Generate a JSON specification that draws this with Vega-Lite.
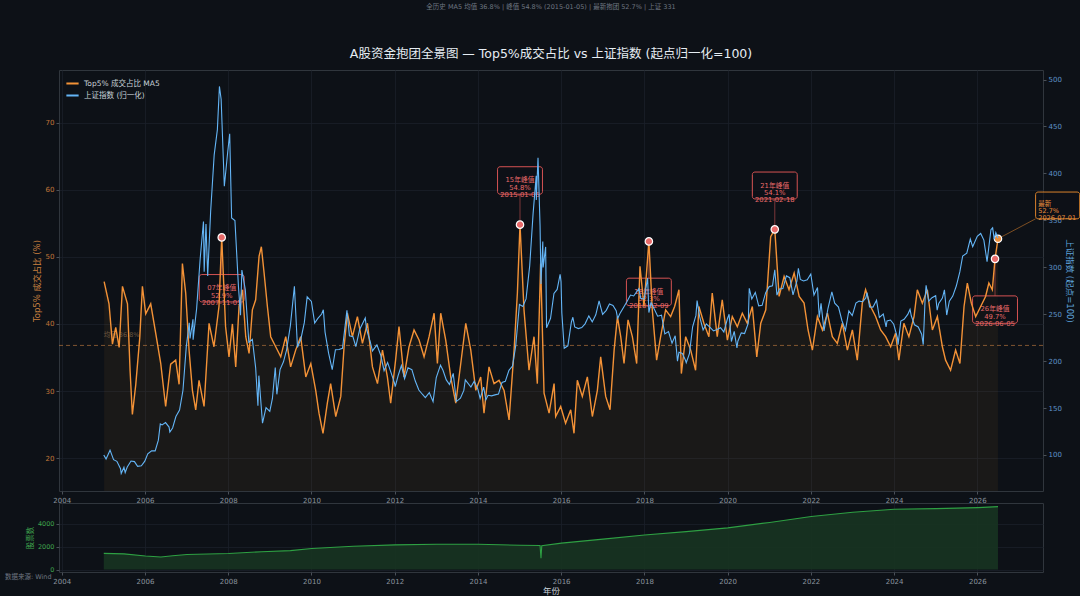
{
  "$schema": "https://vega.github.io/schema/vega-lite/v6.json",
  "background": "#0d1117",
  "autosize": {"type": "pad"},
  "padding": {"left": 4, "top": 3, "right": 1, "bottom": 1},
  "config": {
    "font": "DejaVu Sans, Noto Sans CJK SC",
    "view": {"stroke": "#30363d", "strokeWidth": 1},
    "axis": {
      "domain": false,
      "gridColor": "#1a2029",
      "gridWidth": 0.8,
      "tickColor": "#4a5058",
      "tickSize": 3,
      "labelFontSize": 7,
      "labelColor": "#8b949e",
      "labelPadding": 2,
      "titleFontWeight": "normal",
      "titleFontSize": 8.5
    },
    "legend": {
      "orient": "top-left",
      "offset": 6,
      "symbolType": "stroke",
      "symbolStrokeWidth": 2,
      "symbolSize": 150,
      "labelColor": "#c9d1d9",
      "labelFontSize": 7.5,
      "rowPadding": 0,
      "padding": 0
    }
  },
  "datasets": {
    "share": [
      {"d": "2005-01-07", "v": 46.3}, {"d": "2005-02-19", "v": 43.0}, {"d": "2005-03-21", "v": 37.0},
      {"d": "2005-04-19", "v": 39.5}, {"d": "2005-05-19", "v": 36.5}, {"d": "2005-06-17", "v": 45.6},
      {"d": "2005-07-31", "v": 43.0}, {"d": "2005-08-23", "v": 33.0}, {"d": "2005-09-12", "v": 26.5},
      {"d": "2005-10-12", "v": 31.0}, {"d": "2005-11-16", "v": 38.0}, {"d": "2005-12-09", "v": 45.6},
      {"d": "2006-01-07", "v": 41.5}, {"d": "2006-02-20", "v": 43.0}, {"d": "2006-04-05", "v": 38.6},
      {"d": "2006-05-19", "v": 34.1}, {"d": "2006-07-01", "v": 27.7}, {"d": "2006-08-14", "v": 34.0},
      {"d": "2006-09-27", "v": 34.6}, {"d": "2006-10-27", "v": 31.0}, {"d": "2006-11-25", "v": 49.0},
      {"d": "2006-12-24", "v": 44.6}, {"d": "2007-01-23", "v": 36.0}, {"d": "2007-02-21", "v": 30.1},
      {"d": "2007-03-22", "v": 27.2}, {"d": "2007-04-20", "v": 31.6}, {"d": "2007-06-03", "v": 27.7},
      {"d": "2007-07-17", "v": 40.1}, {"d": "2007-08-29", "v": 36.6}, {"d": "2007-10-12", "v": 42.6},
      {"d": "2007-11-05", "v": 52.9}, {"d": "2007-12-09", "v": 39.6}, {"d": "2008-01-08", "v": 35.1},
      {"d": "2008-02-07", "v": 40.0}, {"d": "2008-03-07", "v": 33.6}, {"d": "2008-04-05", "v": 42.6},
      {"d": "2008-05-05", "v": 45.1}, {"d": "2008-06-03", "v": 38.1}, {"d": "2008-07-02", "v": 35.6},
      {"d": "2008-07-31", "v": 42.1}, {"d": "2008-08-29", "v": 43.6}, {"d": "2008-09-28", "v": 50.1},
      {"d": "2008-10-18", "v": 51.5}, {"d": "2008-11-11", "v": 47.6}, {"d": "2008-12-10", "v": 42.6},
      {"d": "2009-01-08", "v": 38.1}, {"d": "2009-02-21", "v": 36.6}, {"d": "2009-04-06", "v": 35.1},
      {"d": "2009-05-20", "v": 38.1}, {"d": "2009-07-02", "v": 33.6}, {"d": "2009-08-15", "v": 36.1},
      {"d": "2009-09-28", "v": 38.1}, {"d": "2009-11-12", "v": 32.1}, {"d": "2009-12-26", "v": 34.1},
      {"d": "2010-02-07", "v": 30.1}, {"d": "2010-03-08", "v": 26.7}, {"d": "2010-04-12", "v": 23.7},
      {"d": "2010-05-20", "v": 28.2}, {"d": "2010-06-18", "v": 31.1}, {"d": "2010-08-02", "v": 26.2},
      {"d": "2010-09-15", "v": 29.2}, {"d": "2010-10-14", "v": 36.6}, {"d": "2010-11-12", "v": 41.6},
      {"d": "2010-12-26", "v": 38.1}, {"d": "2011-02-08", "v": 41.1}, {"d": "2011-03-24", "v": 37.1},
      {"d": "2011-05-07", "v": 40.1}, {"d": "2011-06-20", "v": 33.6}, {"d": "2011-08-03", "v": 31.1},
      {"d": "2011-09-16", "v": 36.1}, {"d": "2011-10-29", "v": 32.1}, {"d": "2011-11-27", "v": 28.2},
      {"d": "2012-01-09", "v": 34.6}, {"d": "2012-02-08", "v": 39.6}, {"d": "2012-03-23", "v": 32.1},
      {"d": "2012-05-06", "v": 36.6}, {"d": "2012-06-19", "v": 39.1}, {"d": "2012-08-02", "v": 37.6},
      {"d": "2012-09-15", "v": 35.1}, {"d": "2012-10-29", "v": 38.1}, {"d": "2012-12-12", "v": 41.6},
      {"d": "2013-01-10", "v": 34.1}, {"d": "2013-02-08", "v": 41.6}, {"d": "2013-03-24", "v": 37.6},
      {"d": "2013-05-07", "v": 32.1}, {"d": "2013-06-20", "v": 28.2}, {"d": "2013-08-03", "v": 34.1},
      {"d": "2013-09-16", "v": 40.1}, {"d": "2013-10-30", "v": 36.1}, {"d": "2013-12-13", "v": 30.1},
      {"d": "2014-01-25", "v": 32.1}, {"d": "2014-02-23", "v": 26.7}, {"d": "2014-04-08", "v": 33.6},
      {"d": "2014-05-22", "v": 31.1}, {"d": "2014-07-05", "v": 31.6}, {"d": "2014-08-18", "v": 30.1},
      {"d": "2014-10-01", "v": 25.7}, {"d": "2014-11-14", "v": 36.1}, {"d": "2014-12-13", "v": 44.6},
      {"d": "2015-01-05", "v": 54.8}, {"d": "2015-02-09", "v": 42.1}, {"d": "2015-03-25", "v": 33.1},
      {"d": "2015-05-08", "v": 38.1}, {"d": "2015-06-06", "v": 31.1}, {"d": "2015-07-05", "v": 49.0},
      {"d": "2015-08-04", "v": 29.7}, {"d": "2015-09-17", "v": 26.7}, {"d": "2015-10-31", "v": 31.1},
      {"d": "2015-11-14", "v": 26.2}, {"d": "2015-12-28", "v": 27.7}, {"d": "2016-02-09", "v": 25.2},
      {"d": "2016-03-25", "v": 27.2}, {"d": "2016-04-23", "v": 23.7}, {"d": "2016-05-22", "v": 31.6},
      {"d": "2016-07-05", "v": 29.2}, {"d": "2016-08-18", "v": 32.1}, {"d": "2016-10-01", "v": 26.2},
      {"d": "2016-11-14", "v": 30.1}, {"d": "2016-12-13", "v": 35.1}, {"d": "2017-01-26", "v": 29.2},
      {"d": "2017-03-05", "v": 27.2}, {"d": "2017-04-10", "v": 36.1}, {"d": "2017-05-09", "v": 41.1},
      {"d": "2017-06-07", "v": 38.1}, {"d": "2017-07-06", "v": 34.1}, {"d": "2017-08-10", "v": 40.6},
      {"d": "2017-09-17", "v": 38.1}, {"d": "2017-10-25", "v": 34.1}, {"d": "2017-11-23", "v": 48.6},
      {"d": "2017-12-28", "v": 42.6}, {"d": "2018-02-09", "v": 52.3}, {"d": "2018-03-11", "v": 42.1},
      {"d": "2018-04-18", "v": 34.6}, {"d": "2018-05-23", "v": 38.1}, {"d": "2018-07-06", "v": 42.1},
      {"d": "2018-08-19", "v": 41.1}, {"d": "2018-09-23", "v": 42.6}, {"d": "2018-10-31", "v": 45.1},
      {"d": "2018-11-21", "v": 32.6}, {"d": "2018-12-29", "v": 38.1}, {"d": "2019-02-11", "v": 36.1},
      {"d": "2019-03-26", "v": 33.1}, {"d": "2019-04-24", "v": 42.6}, {"d": "2019-06-07", "v": 40.1},
      {"d": "2019-07-21", "v": 38.1}, {"d": "2019-08-19", "v": 44.6}, {"d": "2019-10-02", "v": 38.1},
      {"d": "2019-11-15", "v": 43.6}, {"d": "2019-12-30", "v": 37.6}, {"d": "2020-02-11", "v": 41.1},
      {"d": "2020-03-26", "v": 39.6}, {"d": "2020-05-09", "v": 41.6}, {"d": "2020-06-22", "v": 40.1},
      {"d": "2020-08-05", "v": 42.6}, {"d": "2020-09-13", "v": 35.1}, {"d": "2020-10-18", "v": 40.1},
      {"d": "2020-12-01", "v": 42.1}, {"d": "2021-01-13", "v": 53.0}, {"d": "2021-02-18", "v": 54.1},
      {"d": "2021-03-28", "v": 44.1}, {"d": "2021-05-11", "v": 47.1}, {"d": "2021-06-23", "v": 45.1},
      {"d": "2021-08-07", "v": 47.6}, {"d": "2021-09-20", "v": 44.1}, {"d": "2021-11-02", "v": 43.1},
      {"d": "2021-12-07", "v": 39.1}, {"d": "2022-01-14", "v": 36.1}, {"d": "2022-02-27", "v": 41.1},
      {"d": "2022-04-12", "v": 39.1}, {"d": "2022-05-26", "v": 41.6}, {"d": "2022-07-08", "v": 38.1},
      {"d": "2022-08-21", "v": 37.1}, {"d": "2022-10-04", "v": 40.1}, {"d": "2022-11-17", "v": 36.1},
      {"d": "2022-12-31", "v": 39.1}, {"d": "2023-02-12", "v": 34.6}, {"d": "2023-03-28", "v": 43.1},
      {"d": "2023-04-26", "v": 45.1}, {"d": "2023-06-09", "v": 42.6}, {"d": "2023-07-23", "v": 41.1},
      {"d": "2023-09-05", "v": 39.1}, {"d": "2023-10-19", "v": 38.1}, {"d": "2023-12-02", "v": 36.6},
      {"d": "2024-01-14", "v": 38.6}, {"d": "2024-02-12", "v": 34.6}, {"d": "2024-03-27", "v": 40.1},
      {"d": "2024-05-10", "v": 38.1}, {"d": "2024-06-24", "v": 41.1}, {"d": "2024-07-23", "v": 45.1},
      {"d": "2024-09-05", "v": 43.1}, {"d": "2024-10-19", "v": 45.1}, {"d": "2024-12-02", "v": 39.1},
      {"d": "2025-01-15", "v": 41.1}, {"d": "2025-02-28", "v": 36.6}, {"d": "2025-03-28", "v": 34.6},
      {"d": "2025-05-11", "v": 33.1}, {"d": "2025-06-24", "v": 36.1}, {"d": "2025-08-01", "v": 34.1},
      {"d": "2025-09-06", "v": 42.6}, {"d": "2025-10-05", "v": 46.1}, {"d": "2025-11-09", "v": 43.1},
      {"d": "2025-12-17", "v": 41.1}, {"d": "2026-01-30", "v": 42.6}, {"d": "2026-03-14", "v": 44.1},
      {"d": "2026-04-12", "v": 46.1}, {"d": "2026-05-12", "v": 45.1}, {"d": "2026-06-05", "v": 49.7},
      {"d": "2026-07-01", "v": 52.7}
    ],
    "index": [
      {"d": "2005-01-04", "v": 100.0}, {"d": "2005-01-24", "v": 95.7}, {"d": "2005-02-28", "v": 105.1},
      {"d": "2005-03-31", "v": 95.0}, {"d": "2005-04-29", "v": 93.2}, {"d": "2005-05-31", "v": 85.3},
      {"d": "2005-06-06", "v": 80.3}, {"d": "2005-06-30", "v": 86.9}, {"d": "2005-07-11", "v": 81.3},
      {"d": "2005-07-29", "v": 87.1}, {"d": "2005-08-31", "v": 93.5}, {"d": "2005-09-30", "v": 92.9},
      {"d": "2005-10-28", "v": 87.9}, {"d": "2005-11-30", "v": 88.4}, {"d": "2005-12-30", "v": 93.4},
      {"d": "2006-01-25", "v": 101.2}, {"d": "2006-02-28", "v": 104.5}, {"d": "2006-03-31", "v": 104.4},
      {"d": "2006-04-28", "v": 115.8}, {"d": "2006-05-15", "v": 133.1}, {"d": "2006-05-31", "v": 132.0},
      {"d": "2006-06-30", "v": 134.5}, {"d": "2006-07-31", "v": 129.7}, {"d": "2006-08-07", "v": 124.5},
      {"d": "2006-08-31", "v": 128.8}, {"d": "2006-09-29", "v": 141.0}, {"d": "2006-10-31", "v": 147.8},
      {"d": "2006-11-30", "v": 168.9}, {"d": "2006-12-29", "v": 215.2}, {"d": "2007-01-24", "v": 240.9},
      {"d": "2007-01-31", "v": 224.1}, {"d": "2007-02-26", "v": 244.6}, {"d": "2007-02-27", "v": 222.9},
      {"d": "2007-03-30", "v": 256.1}, {"d": "2007-04-30", "v": 309.0}, {"d": "2007-05-29", "v": 348.8},
      {"d": "2007-06-04", "v": 295.3}, {"d": "2007-06-20", "v": 346.0}, {"d": "2007-07-05", "v": 290.8},
      {"d": "2007-07-31", "v": 359.7}, {"d": "2007-08-31", "v": 419.8}, {"d": "2007-09-28", "v": 446.7},
      {"d": "2007-10-16", "v": 492.7}, {"d": "2007-10-31", "v": 479.0}, {"d": "2007-11-28", "v": 386.4},
      {"d": "2007-12-28", "v": 423.3}, {"d": "2008-01-14", "v": 442.2}, {"d": "2008-01-31", "v": 352.6},
      {"d": "2008-02-29", "v": 349.8}, {"d": "2008-03-31", "v": 279.4}, {"d": "2008-04-18", "v": 248.9},
      {"d": "2008-04-30", "v": 297.1}, {"d": "2008-05-30", "v": 276.2}, {"d": "2008-06-30", "v": 220.1},
      {"d": "2008-07-31", "v": 223.3}, {"d": "2008-08-29", "v": 192.8}, {"d": "2008-09-18", "v": 152.5},
      {"d": "2008-09-26", "v": 184.5}, {"d": "2008-10-28", "v": 133.9}, {"d": "2008-11-28", "v": 150.5},
      {"d": "2008-12-31", "v": 146.5}, {"d": "2009-01-23", "v": 160.2}, {"d": "2009-02-17", "v": 193.2},
      {"d": "2009-03-03", "v": 164.6}, {"d": "2009-03-31", "v": 190.9}, {"d": "2009-04-30", "v": 199.3},
      {"d": "2009-05-27", "v": 211.8}, {"d": "2009-06-30", "v": 238.1}, {"d": "2009-08-04", "v": 279.8},
      {"d": "2009-08-31", "v": 214.6}, {"d": "2009-09-30", "v": 223.6}, {"d": "2009-10-30", "v": 241.0},
      {"d": "2009-11-24", "v": 268.5}, {"d": "2009-12-31", "v": 263.6}, {"d": "2010-01-29", "v": 240.5},
      {"d": "2010-02-26", "v": 245.5}, {"d": "2010-03-31", "v": 250.2}, {"d": "2010-04-15", "v": 254.7},
      {"d": "2010-04-30", "v": 230.9}, {"d": "2010-05-31", "v": 208.5}, {"d": "2010-07-02", "v": 190.9},
      {"d": "2010-07-30", "v": 212.2}, {"d": "2010-08-31", "v": 212.3}, {"d": "2010-09-30", "v": 213.7},
      {"d": "2010-11-08", "v": 254.1}, {"d": "2010-11-30", "v": 226.9}, {"d": "2010-12-31", "v": 225.9},
      {"d": "2011-01-25", "v": 215.4}, {"d": "2011-02-28", "v": 233.7}, {"d": "2011-04-18", "v": 245.9},
      {"d": "2011-04-29", "v": 234.2}, {"d": "2011-05-31", "v": 220.7}, {"d": "2011-06-20", "v": 210.9},
      {"d": "2011-07-29", "v": 217.3}, {"d": "2011-08-31", "v": 206.5}, {"d": "2011-09-30", "v": 189.8},
      {"d": "2011-10-31", "v": 198.6}, {"d": "2011-11-30", "v": 187.7}, {"d": "2011-12-30", "v": 176.9},
      {"d": "2012-01-06", "v": 172.8}, {"d": "2012-01-31", "v": 184.4}, {"d": "2012-02-29", "v": 195.3},
      {"d": "2012-03-28", "v": 181.2}, {"d": "2012-04-27", "v": 192.8}, {"d": "2012-05-31", "v": 190.9},
      {"d": "2012-06-29", "v": 179.0}, {"d": "2012-07-31", "v": 169.2}, {"d": "2012-08-31", "v": 164.7},
      {"d": "2012-09-26", "v": 161.2}, {"d": "2012-10-31", "v": 166.5}, {"d": "2012-12-03", "v": 156.8},
      {"d": "2012-12-31", "v": 182.5}, {"d": "2013-02-06", "v": 195.7}, {"d": "2013-02-28", "v": 190.3},
      {"d": "2013-03-29", "v": 180.0}, {"d": "2013-04-26", "v": 175.1}, {"d": "2013-05-29", "v": 187.0},
      {"d": "2013-06-25", "v": 156.9}, {"d": "2013-07-31", "v": 160.4}, {"d": "2013-08-30", "v": 168.8},
      {"d": "2013-09-12", "v": 180.0}, {"d": "2013-10-31", "v": 172.3}, {"d": "2013-11-29", "v": 178.6},
      {"d": "2013-12-31", "v": 170.2}, {"d": "2014-01-20", "v": 160.2}, {"d": "2014-02-20", "v": 172.3},
      {"d": "2014-03-11", "v": 158.8}, {"d": "2014-03-31", "v": 163.6}, {"d": "2014-04-30", "v": 163.0},
      {"d": "2014-05-30", "v": 164.0}, {"d": "2014-06-30", "v": 164.8}, {"d": "2014-07-31", "v": 177.2},
      {"d": "2014-08-29", "v": 178.4}, {"d": "2014-09-30", "v": 190.2}, {"d": "2014-10-31", "v": 194.7},
      {"d": "2014-11-28", "v": 215.9}, {"d": "2014-12-31", "v": 260.3}, {"d": "2015-01-30", "v": 258.2},
      {"d": "2015-02-27", "v": 266.3}, {"d": "2015-03-31", "v": 301.5}, {"d": "2015-04-30", "v": 357.4},
      {"d": "2015-05-27", "v": 397.5}, {"d": "2015-05-28", "v": 371.7}, {"d": "2015-06-12", "v": 416.6},
      {"d": "2015-06-30", "v": 344.1}, {"d": "2015-07-08", "v": 282.1}, {"d": "2015-07-24", "v": 327.4},
      {"d": "2015-07-27", "v": 299.7}, {"d": "2015-08-18", "v": 321.7}, {"d": "2015-08-26", "v": 235.5},
      {"d": "2015-09-30", "v": 245.6}, {"d": "2015-10-30", "v": 272.2}, {"d": "2015-11-27", "v": 276.4},
      {"d": "2015-12-23", "v": 292.5}, {"d": "2015-12-31", "v": 284.7}, {"d": "2016-01-07", "v": 251.4},
      {"d": "2016-01-28", "v": 213.7}, {"d": "2016-02-29", "v": 216.3}, {"d": "2016-03-31", "v": 241.7},
      {"d": "2016-04-13", "v": 246.7}, {"d": "2016-04-29", "v": 236.4}, {"d": "2016-05-31", "v": 234.7},
      {"d": "2016-06-30", "v": 235.7}, {"d": "2016-07-29", "v": 239.7}, {"d": "2016-08-31", "v": 248.2},
      {"d": "2016-09-30", "v": 241.8}, {"d": "2016-10-31", "v": 249.4}, {"d": "2016-11-29", "v": 264.1},
      {"d": "2016-12-30", "v": 249.7}, {"d": "2017-01-31", "v": 254.1}, {"d": "2017-02-28", "v": 260.8},
      {"d": "2017-03-31", "v": 259.3}, {"d": "2017-04-28", "v": 253.8}, {"d": "2017-05-11", "v": 245.5},
      {"d": "2017-05-31", "v": 250.8}, {"d": "2017-06-30", "v": 256.8}, {"d": "2017-07-31", "v": 263.3},
      {"d": "2017-08-31", "v": 270.4}, {"d": "2017-09-29", "v": 269.4}, {"d": "2017-11-13", "v": 277.3},
      {"d": "2017-11-30", "v": 266.9}, {"d": "2017-12-29", "v": 266.0}, {"d": "2018-01-29", "v": 288.6},
      {"d": "2018-02-09", "v": 251.7}, {"d": "2018-02-28", "v": 262.2}, {"d": "2018-03-30", "v": 254.9},
      {"d": "2018-04-27", "v": 247.9}, {"d": "2018-05-31", "v": 249.0}, {"d": "2018-06-29", "v": 229.0},
      {"d": "2018-07-31", "v": 231.4}, {"d": "2018-08-31", "v": 219.2}, {"d": "2018-09-28", "v": 227.0},
      {"d": "2018-10-18", "v": 200.0}, {"d": "2018-10-31", "v": 209.4}, {"d": "2018-11-30", "v": 208.2},
      {"d": "2018-12-28", "v": 200.6}, {"d": "2019-01-03", "v": 198.2}, {"d": "2019-01-31", "v": 208.0},
      {"d": "2019-02-28", "v": 236.6}, {"d": "2019-03-29", "v": 248.7}, {"d": "2019-04-08", "v": 264.5},
      {"d": "2019-04-30", "v": 247.6}, {"d": "2019-05-31", "v": 233.2}, {"d": "2019-06-28", "v": 239.7},
      {"d": "2019-07-31", "v": 235.9}, {"d": "2019-08-30", "v": 232.2}, {"d": "2019-09-30", "v": 233.7},
      {"d": "2019-10-31", "v": 235.6}, {"d": "2019-11-29", "v": 231.1}, {"d": "2019-12-31", "v": 245.4},
      {"d": "2020-01-14", "v": 250.0}, {"d": "2020-02-03", "v": 220.9}, {"d": "2020-02-28", "v": 231.7},
      {"d": "2020-03-23", "v": 214.0}, {"d": "2020-03-31", "v": 221.2}, {"d": "2020-04-30", "v": 230.1},
      {"d": "2020-05-29", "v": 229.4}, {"d": "2020-06-30", "v": 240.1}, {"d": "2020-07-09", "v": 277.6},
      {"d": "2020-07-31", "v": 266.3}, {"d": "2020-08-31", "v": 273.2}, {"d": "2020-09-30", "v": 258.9},
      {"d": "2020-10-30", "v": 259.5}, {"d": "2020-11-30", "v": 272.9}, {"d": "2020-12-31", "v": 279.4},
      {"d": "2021-01-29", "v": 280.2}, {"d": "2021-02-18", "v": 297.3}, {"d": "2021-03-09", "v": 270.3},
      {"d": "2021-03-31", "v": 276.8}, {"d": "2021-04-30", "v": 277.3}, {"d": "2021-05-31", "v": 290.8},
      {"d": "2021-06-30", "v": 288.9}, {"d": "2021-07-28", "v": 270.5}, {"d": "2021-08-31", "v": 285.1},
      {"d": "2021-09-13", "v": 298.9}, {"d": "2021-09-30", "v": 287.0}, {"d": "2021-10-29", "v": 285.4},
      {"d": "2021-11-30", "v": 286.7}, {"d": "2021-12-31", "v": 292.8}, {"d": "2022-01-28", "v": 270.4},
      {"d": "2022-02-28", "v": 278.5}, {"d": "2022-03-15", "v": 246.5}, {"d": "2022-03-31", "v": 261.6},
      {"d": "2022-04-26", "v": 232.2}, {"d": "2022-05-31", "v": 256.3}, {"d": "2022-07-04", "v": 273.9},
      {"d": "2022-07-29", "v": 261.7}, {"d": "2022-08-31", "v": 257.6}, {"d": "2022-09-30", "v": 243.3},
      {"d": "2022-10-31", "v": 232.7}, {"d": "2022-11-30", "v": 253.5}, {"d": "2022-12-30", "v": 248.5},
      {"d": "2023-01-31", "v": 261.9}, {"d": "2023-02-28", "v": 263.9}, {"d": "2023-03-31", "v": 263.3},
      {"d": "2023-04-28", "v": 267.3}, {"d": "2023-05-09", "v": 273.1}, {"d": "2023-05-31", "v": 257.8},
      {"d": "2023-06-30", "v": 257.6}, {"d": "2023-07-31", "v": 264.8}, {"d": "2023-08-25", "v": 246.5},
      {"d": "2023-09-28", "v": 250.2}, {"d": "2023-10-23", "v": 236.4}, {"d": "2023-10-31", "v": 242.8},
      {"d": "2023-11-30", "v": 243.8}, {"d": "2023-12-29", "v": 239.3}, {"d": "2024-01-31", "v": 224.4},
      {"d": "2024-02-05", "v": 217.4}, {"d": "2024-02-29", "v": 242.6}, {"d": "2024-03-29", "v": 244.6},
      {"d": "2024-04-30", "v": 249.8}, {"d": "2024-05-20", "v": 255.1}, {"d": "2024-05-31", "v": 248.3},
      {"d": "2024-06-28", "v": 238.7}, {"d": "2024-07-31", "v": 236.4}, {"d": "2024-08-30", "v": 228.6},
      {"d": "2024-09-13", "v": 217.6}, {"d": "2024-09-30", "v": 268.4}, {"d": "2024-10-08", "v": 280.7},
      {"d": "2024-10-31", "v": 263.9}, {"d": "2024-11-29", "v": 267.6}, {"d": "2024-12-31", "v": 269.7},
      {"d": "2025-01-13", "v": 254.2}, {"d": "2025-01-27", "v": 261.5}, {"d": "2025-02-28", "v": 267.1},
      {"d": "2025-03-18", "v": 276.0}, {"d": "2025-04-07", "v": 249.1}, {"d": "2025-04-30", "v": 263.8},
      {"d": "2025-05-30", "v": 269.3}, {"d": "2025-06-30", "v": 280.0}, {"d": "2025-07-31", "v": 295.0},
      {"d": "2025-08-25", "v": 312.0}, {"d": "2025-09-30", "v": 315.0}, {"d": "2025-10-31", "v": 330.0},
      {"d": "2025-11-21", "v": 322.0}, {"d": "2025-12-31", "v": 333.0}, {"d": "2026-01-30", "v": 336.0},
      {"d": "2026-02-27", "v": 329.0}, {"d": "2026-03-27", "v": 306.0}, {"d": "2026-04-30", "v": 340.0},
      {"d": "2026-05-15", "v": 342.0}, {"d": "2026-05-29", "v": 330.0}, {"d": "2026-06-12", "v": 337.0},
      {"d": "2026-07-01", "v": 331.0}
    ],
    "stocks": [
      {"d": "2005-01-04", "n": 1410}, {"d": "2005-06-30", "n": 1370}, {"d": "2006-01-04", "n": 1180},
      {"d": "2006-05-20", "n": 1090}, {"d": "2006-09-01", "n": 1200}, {"d": "2007-01-04", "n": 1320},
      {"d": "2008-01-04", "n": 1400}, {"d": "2008-10-20", "n": 1550}, {"d": "2009-06-30", "n": 1650},
      {"d": "2010-01-04", "n": 1830}, {"d": "2011-01-04", "n": 2030}, {"d": "2012-01-04", "n": 2150},
      {"d": "2013-01-04", "n": 2200}, {"d": "2014-01-03", "n": 2200}, {"d": "2015-01-05", "n": 2120},
      {"d": "2015-06-30", "n": 2100}, {"d": "2015-07-08", "n": 985}, {"d": "2015-07-15", "n": 2080},
      {"d": "2016-01-04", "n": 2300}, {"d": "2017-01-03", "n": 2650}, {"d": "2018-01-02", "n": 3010},
      {"d": "2019-01-02", "n": 3300}, {"d": "2020-01-02", "n": 3630}, {"d": "2021-01-04", "n": 4100},
      {"d": "2022-01-04", "n": 4620}, {"d": "2023-01-03", "n": 4980}, {"d": "2024-01-02", "n": 5240},
      {"d": "2025-01-02", "n": 5300}, {"d": "2026-01-05", "n": 5390}, {"d": "2026-07-01", "n": 5470}
    ],
    "notes": [
      {"kind": "peak", "d": "2007-11-05", "v": 52.9, "lx": "2007-11-05", "ly": 47.36, "x1": "2007-04-22", "x2": "2008-05-20", "y1": 47.36, "y2": 43.28, "tx": "2007-11-05", "ty": 45.32, "label": ["07年峰值", "52.9%", "2007-11-05"]},
      {"kind": "peak", "d": "2015-01-05", "v": 54.8, "lx": "2015-01-05", "ly": 59.34, "x1": "2014-06-22", "x2": "2015-07-21", "y1": 63.43, "y2": 59.34, "tx": "2015-01-05", "ty": 61.39, "label": ["15年峰值", "54.8%", "2015-01-05"]},
      {"kind": "peak", "d": "2018-02-09", "v": 52.3, "lx": "2018-02-09", "ly": 46.82, "x1": "2017-07-27", "x2": "2018-08-25", "y1": 46.82, "y2": 42.73, "tx": "2018-02-09", "ty": 44.78, "label": ["18年峰值", "52.3%", "2018-02-09"]},
      {"kind": "peak", "d": "2021-02-18", "v": 54.1, "lx": "2021-02-18", "ly": 58.63, "x1": "2020-08-05", "x2": "2021-09-03", "y1": 62.64, "y2": 58.63, "tx": "2021-02-18", "ty": 60.6, "label": ["21年峰值", "54.1%", "2021-02-18"]},
      {"kind": "peak", "d": "2026-06-05", "v": 49.7, "lx": "2026-06-05", "ly": 44.18, "x1": "2025-11-20", "x2": "2026-12-19", "y1": 44.18, "y2": 40.1, "tx": "2026-06-05", "ty": 42.16, "label": ["26年峰值", "49.7%", "2026-06-05"]},
      {"kind": "latest", "d": "2026-07-01", "v": 52.7, "lx": "2027-05-27", "ly": 55.67, "x1": "2027-05-27", "x2": "2028-06-17", "y1": 59.66, "y2": 55.67, "tx": "2027-06-20", "ty": 57.95, "label": ["最新", "52.7%", "2026-07-01"]}
    ],
    "mean": [{"d": "2005-01-04", "v": 36.8, "label": "均值 36.8%"}],
    "source": [{"d": "2003-12-08", "n": -207, "note": "数据来源: Wind"}]
  },
  "spacing": 12,
  "bounds": "flush",
  "vconcat": [
    {
      "width": 984,
      "height": 421,
      "title": {
        "text": "全历史 MA5 均值 36.8%  |  峰值 54.8% (2015-01-05)  |  最新抱团 52.7%  |  上证 331",
        "fontSize": 6.5,
        "fontWeight": "normal",
        "color": "#6e7681",
        "subtitle": "A股资金抱团全景图 — Top5%成交占比 vs 上证指数 (起点归一化=100)",
        "subtitleFontSize": 12.5,
        "subtitleColor": "#e6edf3",
        "subtitlePadding": 37,
        "offset": 10,
        "anchor": "middle",
        "frame": "group"
      },
      "layer": [
        {
          "layer": [
            {
              "data": {"name": "share"},
              "mark": {"type": "area", "color": "#f39237", "opacity": 0.06},
              "encoding": {
                "x": {
                  "field": "d", "type": "temporal", "title": null,
                  "scale": {"domain": [{"year": 2003, "month": 12, "date": 8}, {"year": 2027, "month": 7, "date": 31}]},
                  "axis": {
                    "values": [{"year": 2004, "month": 1, "date": 1}, {"year": 2006, "month": 1, "date": 1}, {"year": 2008, "month": 1, "date": 1}, {"year": 2010, "month": 1, "date": 1}, {"year": 2012, "month": 1, "date": 1}, {"year": 2014, "month": 1, "date": 1}, {"year": 2016, "month": 1, "date": 1}, {"year": 2018, "month": 1, "date": 1}, {"year": 2020, "month": 1, "date": 1}, {"year": 2022, "month": 1, "date": 1}, {"year": 2024, "month": 1, "date": 1}, {"year": 2026, "month": 1, "date": 1}],
                    "format": "%Y", "grid": true
                  }
                },
                "y": {
                  "field": "v", "type": "quantitative", "title": "Top5% 成交占比 (%)",
                  "scale": {"domain": [15.1, 77.85], "zero": false, "nice": false},
                  "axis": {"orient": "left", "values": [20, 30, 40, 50, 60, 70], "labelColor": "#c0773a", "titleColor": "#c8803f", "titlePadding": 4, "grid": true}
                },
                "y2": {"datum": 15.1}
              }
            },
            {
              "data": {"name": "mean"},
              "mark": {"type": "rule", "color": "#b8773d", "strokeDash": [4, 3], "strokeWidth": 0.9, "opacity": 0.75},
              "encoding": {"y": {"field": "v", "type": "quantitative", "title": "Top5% 成交占比 (%)"}}
            },
            {
              "data": {"name": "mean"},
              "mark": {"type": "text", "align": "left", "baseline": "middle", "dy": -10, "fontSize": 6.5, "color": "#6b5640"},
              "encoding": {
                "x": {"field": "d", "type": "temporal", "title": null},
                "y": {"field": "v", "type": "quantitative", "title": "Top5% 成交占比 (%)"},
                "text": {"field": "label"}
              }
            },
            {
              "data": {"name": "notes"},
              "mark": {"type": "rule", "strokeWidth": 1, "strokeOpacity": 0.55},
              "encoding": {
                "x": {"field": "d", "type": "temporal", "title": null},
                "x2": {"field": "lx"},
                "y": {"field": "v", "type": "quantitative", "title": "Top5% 成交占比 (%)"},
                "y2": {"field": "ly"},
                "stroke": {"field": "kind", "type": "nominal", "scale": {"domain": ["peak", "latest"], "range": ["#d65353", "#d9822b"]}, "legend": null}
              }
            },
            {
              "data": {"name": "notes"},
              "mark": {"type": "rect", "fill": "#0d1117", "fillOpacity": 0.6, "strokeWidth": 1, "cornerRadius": 2.5},
              "encoding": {
                "x": {"field": "x1", "type": "temporal", "title": null},
                "x2": {"field": "x2"},
                "y": {"field": "y1", "type": "quantitative", "title": "Top5% 成交占比 (%)"},
                "y2": {"field": "y2"},
                "stroke": {"field": "kind", "type": "nominal", "legend": null}
              }
            },
            {
              "data": {"name": "notes"},
              "transform": [{"filter": "datum.kind === 'peak'"}],
              "mark": {"type": "text", "align": "center", "baseline": "middle", "fontSize": 6.8, "lineHeight": 7.3},
              "encoding": {
                "x": {"field": "tx", "type": "temporal", "title": null},
                "y": {"field": "ty", "type": "quantitative", "title": "Top5% 成交占比 (%)"},
                "text": {"field": "label"},
                "fill": {"field": "kind", "type": "nominal", "scale": {"domain": ["peak", "latest"], "range": ["#e86a6a", "#ec8f3c"]}, "legend": null}
              }
            },
            {
              "data": {"name": "notes"},
              "transform": [{"filter": "datum.kind === 'latest'"}],
              "mark": {"type": "text", "align": "left", "baseline": "middle", "fontSize": 6.5, "lineHeight": 7},
              "encoding": {
                "x": {"field": "tx", "type": "temporal", "title": null},
                "y": {"field": "ty", "type": "quantitative", "title": "Top5% 成交占比 (%)"},
                "text": {"field": "label"},
                "fill": {"field": "kind", "type": "nominal", "legend": null}
              }
            },
            {
              "data": {"name": "share"},
              "mark": {"type": "line", "strokeWidth": 1.4},
              "encoding": {
                "x": {"field": "d", "type": "temporal", "title": null},
                "y": {"field": "v", "type": "quantitative", "title": "Top5% 成交占比 (%)"},
                "color": {
                  "datum": "Top5% 成交占比 MA5",
                  "scale": {"domain": ["Top5% 成交占比 MA5", "上证指数 (归一化)"], "range": ["#f39237", "#64b5f6"]},
                  "legend": {"title": null}
                }
              }
            },
            {
              "data": {"name": "notes"},
              "mark": {"type": "point", "shape": "circle", "filled": true, "size": 55, "stroke": "#ffffff", "strokeWidth": 1.2, "opacity": 1},
              "encoding": {
                "x": {"field": "d", "type": "temporal", "title": null},
                "y": {"field": "v", "type": "quantitative", "title": "Top5% 成交占比 (%)"},
                "fill": {"field": "kind", "type": "nominal", "legend": null}
              }
            }
          ]
        },
        {
          "data": {"name": "index"},
          "mark": {"type": "line", "strokeWidth": 1.1},
          "encoding": {
            "x": {"field": "d", "type": "temporal", "title": null},
            "y": {
              "field": "v", "type": "quantitative", "title": "上证指数 (起点=100)",
              "scale": {"domain": [61.6, 510.2], "zero": false, "nice": false},
              "axis": {"orient": "right", "values": [100, 150, 200, 250, 300, 350, 400, 450, 500], "labelColor": "#5f93c9", "titleColor": "#5fa3dc", "titlePadding": 3, "grid": false}
            },
            "color": {"datum": "上证指数 (归一化)"}
          }
        }
      ],
      "resolve": {"scale": {"y": "independent"}}
    },
    {
      "width": 984,
      "height": 69,
      "layer": [
        {
          "data": {"name": "stocks"},
          "mark": {"type": "area", "color": "#173321", "opacity": 0.95},
          "encoding": {
            "x": {
              "field": "d", "type": "temporal", "title": "年份",
              "scale": {"domain": [{"year": 2003, "month": 12, "date": 8}, {"year": 2027, "month": 7, "date": 31}]},
              "axis": {
                "values": [{"year": 2004, "month": 1, "date": 1}, {"year": 2006, "month": 1, "date": 1}, {"year": 2008, "month": 1, "date": 1}, {"year": 2010, "month": 1, "date": 1}, {"year": 2012, "month": 1, "date": 1}, {"year": 2014, "month": 1, "date": 1}, {"year": 2016, "month": 1, "date": 1}, {"year": 2018, "month": 1, "date": 1}, {"year": 2020, "month": 1, "date": 1}, {"year": 2022, "month": 1, "date": 1}, {"year": 2024, "month": 1, "date": 1}, {"year": 2026, "month": 1, "date": 1}],
                "format": "%Y", "grid": true, "titleColor": "#c9d1d9", "titlePadding": 2
              }
            },
            "y": {
              "field": "n", "type": "quantitative", "title": "股票数",
              "scale": {"domain": [-207, 5788], "nice": false},
              "axis": {"values": [0, 2000, 4000], "format": "d", "labelOverlap": false, "labelFontSize": 6.5, "labelColor": "#3fa34d", "titleColor": "#3fa34d", "titleFontSize": 7.5, "titlePadding": 3, "grid": true}
            }
          }
        },
        {
          "data": {"name": "stocks"},
          "mark": {"type": "line", "color": "#2ea043", "strokeWidth": 1.1},
          "encoding": {
            "x": {"field": "d", "type": "temporal", "title": "年份"},
            "y": {
              "field": "n", "type": "quantitative", "title": "股票数",
              "axis": {"values": [0, 2000, 4000], "format": "d", "labelOverlap": false, "labelFontSize": 6.5, "labelColor": "#3fa34d", "titleColor": "#3fa34d", "titleFontSize": 7.5, "titlePadding": 3, "grid": true}
            }
          }
        },
        {
          "data": {"name": "source"},
          "mark": {"type": "text", "align": "left", "baseline": "middle", "dx": -54, "dy": 5, "fontSize": 6.5, "color": "#6e7681"},
          "encoding": {
            "x": {"field": "d", "type": "temporal", "title": "年份"},
            "y": {
              "field": "n", "type": "quantitative", "title": "股票数",
              "axis": {"values": [0, 2000, 4000], "format": "d", "labelOverlap": false, "labelFontSize": 6.5, "labelColor": "#3fa34d", "titleColor": "#3fa34d", "titleFontSize": 7.5, "titlePadding": 3, "grid": true}
            },
            "text": {"field": "note"}
          }
        }
      ]
    }
  ]
}
